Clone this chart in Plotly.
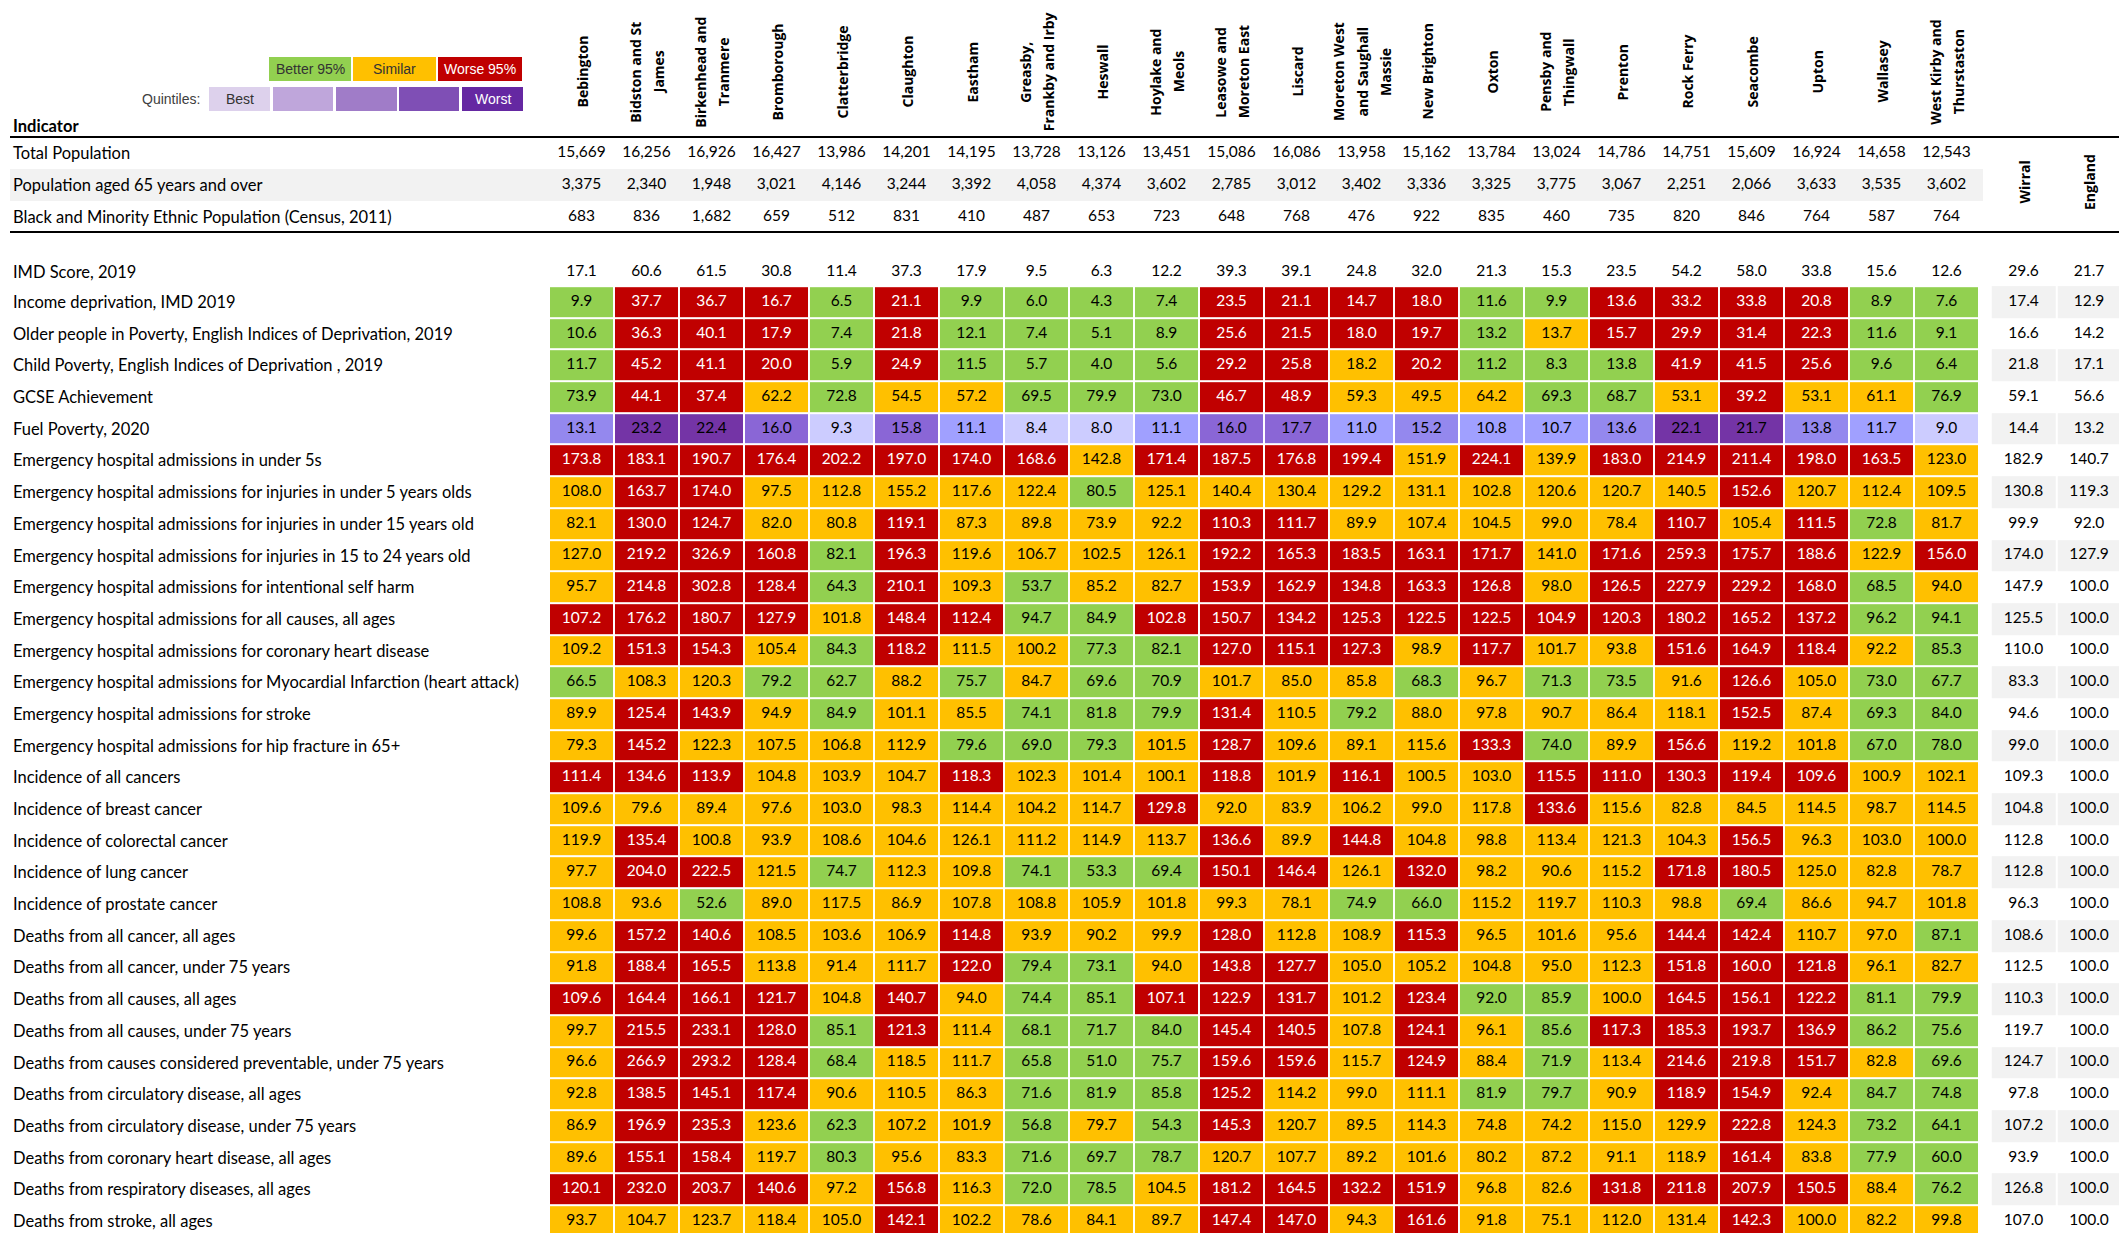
import plotly.graph_objects as go

# ------------------------------------------------------------------ data
wards = ["Bebington", "Bidston and St James", "Birkenhead and Tranmere", "Bromborough",
         "Clatterbridge", "Claughton", "Eastham", "Greasby, Frankby and Irby", "Heswall",
         "Hoylake and Meols", "Leasowe and Moreton East", "Liscard",
         "Moreton West and Saughall Massie", "New Brighton", "Oxton", "Pensby and Thingwall",
         "Prenton", "Rock Ferry", "Seacombe", "Upton", "Wallasey", "West Kirby and Thurstaston"]
ward_header_lines = [["Bebington"], ["Bidston and St", "James"], ["Birkenhead and", "Tranmere"],
                     ["Bromborough"], ["Clatterbridge"], ["Claughton"], ["Eastham"],
                     ["Greasby,", "Frankby and Irby"], ["Heswall"], ["Hoylake and", "Meols"],
                     ["Leasowe and", "Moreton East"], ["Liscard"],
                     ["Moreton West", "and Saughall", "Massie"], ["New Brighton"], ["Oxton"],
                     ["Pensby and", "Thingwall"], ["Prenton"], ["Rock Ferry"], ["Seacombe"],
                     ["Upton"], ["Wallasey"], ["West Kirby and", "Thurstaston"]]
comparators = ["Wirral", "England"]

top_labels = ["Total Population", "Population aged 65 years and over",
              "Black and Minority Ethnic Population (Census, 2011)"]
total_population = [15669, 16256, 16926, 16427, 13986, 14201, 14195, 13728, 13126, 13451, 15086,
                    16086, 13958, 15162, 13784, 13024, 14786, 14751, 15609, 16924, 14658, 12543]
population_65_plus = [3375, 2340, 1948, 3021, 4146, 3244, 3392, 4058, 4374, 3602, 2785,
                      3012, 3402, 3336, 3325, 3775, 3067, 2251, 2066, 3633, 3535, 3602]
bme_population = [683, 836, 1682, 659, 512, 831, 410, 487, 653, 723, 648,
                  768, 476, 922, 835, 460, 735, 820, 846, 764, 587, 764]

imd_label = "IMD Score, 2019"
imd_score = [17.1, 60.6, 61.5, 30.8, 11.4, 37.3, 17.9, 9.5, 6.3, 12.2, 39.3,
             39.1, 24.8, 32.0, 21.3, 15.3, 23.5, 54.2, 58.0, 33.8, 15.6, 12.6]
imd_wirral, imd_england = 29.6, 21.7

# significance: G better, A similar, R worse; 1-5 quintiles (best..worst)
income_dep = [9.9, 37.7, 36.7, 16.7, 6.5, 21.1, 9.9, 6.0, 4.3, 7.4, 23.5, 21.1, 14.7, 18.0, 11.6, 9.9, 13.6, 33.2, 33.8, 20.8, 8.9, 7.6]
income_dep_sig = "GRRRGRGGGGRRRRGGRRRRGG"
older_poverty = [10.6, 36.3, 40.1, 17.9, 7.4, 21.8, 12.1, 7.4, 5.1, 8.9, 25.6, 21.5, 18.0, 19.7, 13.2, 13.7, 15.7, 29.9, 31.4, 22.3, 11.6, 9.1]
older_poverty_sig = "GRRRGRGGGGRRRRGARRRRGG"
child_poverty = [11.7, 45.2, 41.1, 20.0, 5.9, 24.9, 11.5, 5.7, 4.0, 5.6, 29.2, 25.8, 18.2, 20.2, 11.2, 8.3, 13.8, 41.9, 41.5, 25.6, 9.6, 6.4]
child_poverty_sig = "GRRRGRGGGGRRARGGGRRRGG"
gcse = [73.9, 44.1, 37.4, 62.2, 72.8, 54.5, 57.2, 69.5, 79.9, 73.0, 46.7, 48.9, 59.3, 49.5, 64.2, 69.3, 68.7, 53.1, 39.2, 53.1, 61.1, 76.9]
gcse_sig = "GRRAGAAGGGRRAAAGGARAAG"
fuel_poverty = [13.1, 23.2, 22.4, 16.0, 9.3, 15.8, 11.1, 8.4, 8.0, 11.1, 16.0, 17.7, 11.0, 15.2, 10.8, 10.7, 13.6, 22.1, 21.7, 13.8, 11.7, 9.0]
fuel_poverty_sig = "3554142112442322355321"
ea_under5 = [173.8, 183.1, 190.7, 176.4, 202.2, 197.0, 174.0, 168.6, 142.8, 171.4, 187.5, 176.8, 199.4, 151.9, 224.1, 139.9, 183.0, 214.9, 211.4, 198.0, 163.5, 123.0]
ea_under5_sig = "RRRRRRRRARRRRARARRRRRA"
ea_inj_u5 = [108.0, 163.7, 174.0, 97.5, 112.8, 155.2, 117.6, 122.4, 80.5, 125.1, 140.4, 130.4, 129.2, 131.1, 102.8, 120.6, 120.7, 140.5, 152.6, 120.7, 112.4, 109.5]
ea_inj_u5_sig = "ARRAAAAAGAAAAAAAAARAAA"
ea_inj_u15 = [82.1, 130.0, 124.7, 82.0, 80.8, 119.1, 87.3, 89.8, 73.9, 92.2, 110.3, 111.7, 89.9, 107.4, 104.5, 99.0, 78.4, 110.7, 105.4, 111.5, 72.8, 81.7]
ea_inj_u15_sig = "ARRAARAAAARRAAAAARARGA"
ea_inj_15_24 = [127.0, 219.2, 326.9, 160.8, 82.1, 196.3, 119.6, 106.7, 102.5, 126.1, 192.2, 165.3, 183.5, 163.1, 171.7, 141.0, 171.6, 259.3, 175.7, 188.6, 122.9, 156.0]
ea_inj_15_24_sig = "ARRRGRAAAARRRRRARRRRAR"
ea_self_harm = [95.7, 214.8, 302.8, 128.4, 64.3, 210.1, 109.3, 53.7, 85.2, 82.7, 153.9, 162.9, 134.8, 163.3, 126.8, 98.0, 126.5, 227.9, 229.2, 168.0, 68.5, 94.0]
ea_self_harm_sig = "ARRRGRAGAARRRRRARRRRGA"
ea_all = [107.2, 176.2, 180.7, 127.9, 101.8, 148.4, 112.4, 94.7, 84.9, 102.8, 150.7, 134.2, 125.3, 122.5, 122.5, 104.9, 120.3, 180.2, 165.2, 137.2, 96.2, 94.1]
ea_all_sig = "RRRRARRGGRRRRRRRRRRRGG"
ea_chd = [109.2, 151.3, 154.3, 105.4, 84.3, 118.2, 111.5, 100.2, 77.3, 82.1, 127.0, 115.1, 127.3, 98.9, 117.7, 101.7, 93.8, 151.6, 164.9, 118.4, 92.2, 85.3]
ea_chd_sig = "ARRAGRAAGGRRRARAARRRAG"
ea_mi = [66.5, 108.3, 120.3, 79.2, 62.7, 88.2, 75.7, 84.7, 69.6, 70.9, 101.7, 85.0, 85.8, 68.3, 96.7, 71.3, 73.5, 91.6, 126.6, 105.0, 73.0, 67.7]
ea_mi_sig = "GAAGGAGAGGAAAGAGGARAGG"
ea_stroke = [89.9, 125.4, 143.9, 94.9, 84.9, 101.1, 85.5, 74.1, 81.8, 79.9, 131.4, 110.5, 79.2, 88.0, 97.8, 90.7, 86.4, 118.1, 152.5, 87.4, 69.3, 84.0]
ea_stroke_sig = "ARRAGAAGGGRAGAAAAARAGG"
ea_hip = [79.3, 145.2, 122.3, 107.5, 106.8, 112.9, 79.6, 69.0, 79.3, 101.5, 128.7, 109.6, 89.1, 115.6, 133.3, 74.0, 89.9, 156.6, 119.2, 101.8, 67.0, 78.0]
ea_hip_sig = "ARAAAAGGGARAAARGARAAGG"
inc_all_cancer = [111.4, 134.6, 113.9, 104.8, 103.9, 104.7, 118.3, 102.3, 101.4, 100.1, 118.8, 101.9, 116.1, 100.5, 103.0, 115.5, 111.0, 130.3, 119.4, 109.6, 100.9, 102.1]
inc_all_cancer_sig = "RRRAAARAAARARAARRRRRAA"
inc_breast = [109.6, 79.6, 89.4, 97.6, 103.0, 98.3, 114.4, 104.2, 114.7, 129.8, 92.0, 83.9, 106.2, 99.0, 117.8, 133.6, 115.6, 82.8, 84.5, 114.5, 98.7, 114.5]
inc_breast_sig = "AAAAAAAAARAAAAARAAAAAA"
inc_colorectal = [119.9, 135.4, 100.8, 93.9, 108.6, 104.6, 126.1, 111.2, 114.9, 113.7, 136.6, 89.9, 144.8, 104.8, 98.8, 113.4, 121.3, 104.3, 156.5, 96.3, 103.0, 100.0]
inc_colorectal_sig = "ARAAAAAAAARARAAAAARAAA"
inc_lung = [97.7, 204.0, 222.5, 121.5, 74.7, 112.3, 109.8, 74.1, 53.3, 69.4, 150.1, 146.4, 126.1, 132.0, 98.2, 90.6, 115.2, 171.8, 180.5, 125.0, 82.8, 78.7]
inc_lung_sig = "ARRAGAAGGGRRARAAARRAAA"
inc_prostate = [108.8, 93.6, 52.6, 89.0, 117.5, 86.9, 107.8, 108.8, 105.9, 101.8, 99.3, 78.1, 74.9, 66.0, 115.2, 119.7, 110.3, 98.8, 69.4, 86.6, 94.7, 101.8]
inc_prostate_sig = "AAGAAAAAAAAAGGAAAAGAAA"
d_cancer = [99.6, 157.2, 140.6, 108.5, 103.6, 106.9, 114.8, 93.9, 90.2, 99.9, 128.0, 112.8, 108.9, 115.3, 96.5, 101.6, 95.6, 144.4, 142.4, 110.7, 97.0, 87.1]
d_cancer_sig = "ARRAAARAAARAARAAARRAAG"
d_cancer_u75 = [91.8, 188.4, 165.5, 113.8, 91.4, 111.7, 122.0, 79.4, 73.1, 94.0, 143.8, 127.7, 105.0, 105.2, 104.8, 95.0, 112.3, 151.8, 160.0, 121.8, 96.1, 82.7]
d_cancer_u75_sig = "ARRAAARGGARRAAAAARRRAA"
d_all = [109.6, 164.4, 166.1, 121.7, 104.8, 140.7, 94.0, 74.4, 85.1, 107.1, 122.9, 131.7, 101.2, 123.4, 92.0, 85.9, 100.0, 164.5, 156.1, 122.2, 81.1, 79.9]
d_all_sig = "RRRRARAGGRRRARGGARRRGG"
d_all_u75 = [99.7, 215.5, 233.1, 128.0, 85.1, 121.3, 111.4, 68.1, 71.7, 84.0, 145.4, 140.5, 107.8, 124.1, 96.1, 85.6, 117.3, 185.3, 193.7, 136.9, 86.2, 75.6]
d_all_u75_sig = "ARRRGRAGGGRRARAGRRRRGG"
d_prevent = [96.6, 266.9, 293.2, 128.4, 68.4, 118.5, 111.7, 65.8, 51.0, 75.7, 159.6, 159.6, 115.7, 124.9, 88.4, 71.9, 113.4, 214.6, 219.8, 151.7, 82.8, 69.6]
d_prevent_sig = "ARRRGAAGGGRRARAGARRRAG"
d_circ = [92.8, 138.5, 145.1, 117.4, 90.6, 110.5, 86.3, 71.6, 81.9, 85.8, 125.2, 114.2, 99.0, 111.1, 81.9, 79.7, 90.9, 118.9, 154.9, 92.4, 84.7, 74.8]
d_circ_sig = "ARRRAAAGGGRAAAGGARRAGG"
d_circ_u75 = [86.9, 196.9, 235.3, 123.6, 62.3, 107.2, 101.9, 56.8, 79.7, 54.3, 145.3, 120.7, 89.5, 114.3, 74.8, 74.2, 115.0, 129.9, 222.8, 124.3, 73.2, 64.1]
d_circ_u75_sig = "ARRAGAAGAGRAAAAAAARAGG"
d_chd = [89.6, 155.1, 158.4, 119.7, 80.3, 95.6, 83.3, 71.6, 69.7, 78.7, 120.7, 107.7, 89.2, 101.6, 80.2, 87.2, 91.1, 118.9, 161.4, 83.8, 77.9, 60.0]
d_chd_sig = "ARRAGAAGGGAAAAAAAARAGG"
d_resp = [120.1, 232.0, 203.7, 140.6, 97.2, 156.8, 116.3, 72.0, 78.5, 104.5, 181.2, 164.5, 132.2, 151.9, 96.8, 82.6, 131.8, 211.8, 207.9, 150.5, 88.4, 76.2]
d_resp_sig = "RRRRARAGGARRRRAARRRRAG"
d_stroke = [93.7, 104.7, 123.7, 118.4, 105.0, 142.1, 102.2, 78.6, 84.1, 89.7, 147.4, 147.0, 94.3, 161.6, 91.8, 75.1, 112.0, 131.4, 142.3, 100.0, 82.2, 99.8]
d_stroke_sig = "AAAAARAAAARRARAAAARAAA"

indicator_labels = [
    "Income deprivation, IMD 2019",
    "Older people in Poverty, English Indices of Deprivation, 2019",
    "Child Poverty, English Indices of Deprivation , 2019",
    "GCSE Achievement",
    "Fuel Poverty, 2020",
    "Emergency hospital admissions in under 5s",
    "Emergency hospital admissions for injuries in under 5 years olds",
    "Emergency hospital admissions for injuries in under 15 years old",
    "Emergency hospital admissions for injuries in 15 to 24 years old",
    "Emergency hospital admissions for intentional self harm",
    "Emergency hospital admissions for all causes, all ages",
    "Emergency hospital admissions for coronary heart disease",
    "Emergency hospital admissions for Myocardial Infarction (heart attack)",
    "Emergency hospital admissions for stroke",
    "Emergency hospital admissions for hip fracture in 65+",
    "Incidence of all cancers",
    "Incidence of breast cancer",
    "Incidence of colorectal cancer",
    "Incidence of lung cancer",
    "Incidence of prostate cancer",
    "Deaths from all cancer, all ages",
    "Deaths from all cancer, under 75 years",
    "Deaths from all causes, all ages",
    "Deaths from all causes, under 75 years",
    "Deaths from causes considered preventable, under 75 years",
    "Deaths from circulatory disease, all ages",
    "Deaths from circulatory disease, under 75 years",
    "Deaths from coronary heart disease, all ages",
    "Deaths from respiratory diseases, all ages",
    "Deaths from stroke, all ages",
]
wirral_values = [17.4, 16.6, 21.8, 59.1, 14.4, 182.9, 130.8, 99.9, 174.0, 147.9, 125.5, 110.0, 83.3, 94.6, 99.0,
                 109.3, 104.8, 112.8, 112.8, 96.3, 108.6, 112.5, 110.3, 119.7, 124.7, 97.8, 107.2, 93.9, 126.8, 107.0]
england_values = [12.9, 14.2, 17.1, 56.6, 13.2, 140.7, 119.3, 92.0, 127.9, 100.0, 100.0, 100.0, 100.0, 100.0, 100.0,
                  100.0, 100.0, 100.0, 100.0, 100.0, 100.0, 100.0, 100.0, 100.0, 100.0, 100.0, 100.0, 100.0, 100.0, 100.0]

indicator_values = [income_dep, older_poverty, child_poverty, gcse, fuel_poverty, ea_under5, ea_inj_u5,
                    ea_inj_u15, ea_inj_15_24, ea_self_harm, ea_all, ea_chd, ea_mi, ea_stroke, ea_hip,
                    inc_all_cancer, inc_breast, inc_colorectal, inc_lung, inc_prostate, d_cancer,
                    d_cancer_u75, d_all, d_all_u75, d_prevent, d_circ, d_circ_u75, d_chd, d_resp, d_stroke]
indicator_sigs = [income_dep_sig, older_poverty_sig, child_poverty_sig, gcse_sig, fuel_poverty_sig,
                  ea_under5_sig, ea_inj_u5_sig, ea_inj_u15_sig, ea_inj_15_24_sig, ea_self_harm_sig,
                  ea_all_sig, ea_chd_sig, ea_mi_sig, ea_stroke_sig, ea_hip_sig, inc_all_cancer_sig,
                  inc_breast_sig, inc_colorectal_sig, inc_lung_sig, inc_prostate_sig, d_cancer_sig,
                  d_cancer_u75_sig, d_all_sig, d_all_u75_sig, d_prevent_sig, d_circ_sig, d_circ_u75_sig,
                  d_chd_sig, d_resp_sig, d_stroke_sig]

sig_legend = ["Better 95%", "Similar", "Worse 95%"]
quintile_legend = ["Best", "", "", "", "Worst"]

# ------------------------------------------------------------------ styling / geometry
W, H = 2119, 1233
COL_W, COL0 = 65.0, 581.5          # px width of a ward column, px centre of first column
ROW_H, ROW0 = 31.69, 302.0         # px height of an indicator row, px centre of first row


def px2x(px):
    return (px - COL0) / COL_W


def px2y(py):
    return (py - ROW0) / ROW_H


LABEL_FONT = "Lato"
VALUE_FONT = "Lato"
HEAD_FONT = "Open Sans"
LEG_FONT = "Liberation Sans"

sig_codes = {"G": 0, "A": 1, "R": 2, "1": 3, "2": 4, "3": 5, "4": 6, "5": 7}
cell_colors = ["#92D050", "#FFC000", "#C00000", "#CCCCFF", "#A0A0FF", "#9488EE", "#8A66D6", "#7434A6"]
text_on = ["#000000", "#000000", "#FFFFFF", "#000000", "#000000", "#000000", "#000000", "#000000"]
quintile_leg_colors = ["#DDD1EC", "#BFA6DB", "#A07CC8", "#7F4FB5", "#6528A2"]

ncol = len(wards)
nrow = len(indicator_labels)
wirral_x = px2x(2023.5)
england_x = px2x(2089.0)
top_rows_y = [px2y(153), px2y(185), px2y(217)]
imd_y = px2y(272)

n = len(cell_colors)
colorscale = []
for k, c in enumerate(cell_colors):
    colorscale.append([k / n, c])
    colorscale.append([(k + 1) / n, c])

z = [[sig_codes[ch] for ch in sig] for sig in indicator_sigs]

fig = go.Figure()

# coloured cells
fig.add_trace(go.Heatmap(z=z, x=list(range(ncol)), y=list(range(nrow)), zmin=-0.5, zmax=n - 0.5,
                         colorscale=colorscale, showscale=False, xgap=2, ygap=2, hoverinfo="skip"))

# alternating grey comparator cells
zc = [[1 if r % 2 == 0 else 0, 1 if r % 2 == 0 else 0] for r in range(nrow)]
fig.add_trace(go.Heatmap(z=zc, x=[wirral_x, england_x], y=list(range(nrow)), zmin=0, zmax=1,
                         colorscale=[[0, "#FFFFFF"], [1, "#F2F2F2"]], showscale=False,
                         xgap=2, ygap=0, hoverinfo="skip"))

# values inside cells
tx, ty, tt, tc = [], [], [], []
for r in range(nrow):
    for c in range(ncol):
        tx.append(c)
        ty.append(r)
        tt.append(f"{indicator_values[r][c]:.1f}")
        tc.append(text_on[z[r][c]])
    for xx, v in ((wirral_x, wirral_values[r]), (england_x, england_values[r])):
        tx.append(xx)
        ty.append(r)
        tt.append(f"{v:.1f}")
        tc.append("#000000")
# IMD row
for c in range(ncol):
    tx.append(c)
    ty.append(imd_y)
    tt.append(f"{imd_score[c]:.1f}")
    tc.append("#000000")
for xx, v in ((wirral_x, imd_wirral), (england_x, imd_england)):
    tx.append(xx)
    ty.append(imd_y)
    tt.append(f"{v:.1f}")
    tc.append("#000000")
# population rows
for yy, vals in zip(top_rows_y, [total_population, population_65_plus, bme_population]):
    for c in range(ncol):
        tx.append(c)
        ty.append(yy)
        tt.append(f"{vals[c]:,}")
        tc.append("#000000")

fig.add_trace(go.Scatter(x=tx, y=ty, text=tt, mode="text", textposition="middle center",
                         textfont=dict(family=VALUE_FONT, size=15.5, color=tc),
                         hoverinfo="skip", showlegend=False))

annotations = []
# row labels
for yy, lab in zip(top_rows_y + [imd_y] + list(range(nrow)), top_labels + [imd_label] + indicator_labels):
    annotations.append(dict(x=11 / W, xref="paper", y=yy, yref="y", text=lab, showarrow=False,
                            xanchor="left", yanchor="middle",
                            font=dict(family=LABEL_FONT, size=16.5, color="#000000")))
annotations.append(dict(x=11 / W, xref="paper", y=px2y(126), yref="y", text="Indicator", showarrow=False,
                        xanchor="left", yanchor="middle",
                        font=dict(family=LABEL_FONT, size=16.5, color="#000000", weight="bold")))

# rotated ward headers
LINE_SP = 23.5
for c, lines in enumerate(ward_header_lines):
    m = len(lines)
    for k, ln in enumerate(lines):
        annotations.append(dict(x=c + (k - (m - 1) / 2) * LINE_SP / COL_W, xref="x", y=px2y(72), yref="y",
                                text=ln, textangle=-90, showarrow=False, xanchor="center", yanchor="middle",
                                font=dict(family=HEAD_FONT, size=14, color="#000000", weight="bold")))
for xx, lab in zip([wirral_x, england_x], comparators):
    annotations.append(dict(x=xx, xref="x", y=px2y(182), yref="y", text=lab, textangle=-90, showarrow=False,
                            xanchor="center", yanchor="middle",
                            font=dict(family=HEAD_FONT, size=14, color="#000000", weight="bold")))

shapes = []
# grey band behind population aged 65 row
shapes.append(dict(type="rect", xref="x", yref="y", x0=px2x(10), x1=px2x(1983), y0=px2y(169), y1=px2y(201),
                   fillcolor="#F2F2F2", line=dict(width=0), layer="below"))
# horizontal rules
for py in (137, 232):
    shapes.append(dict(type="line", xref="x", yref="y", x0=px2x(10), x1=px2x(W + 5), y0=px2y(py), y1=px2y(py),
                       line=dict(color="#000000", width=2)))

# legend boxes (significance)
sig_boxes = [(269, 351), (353, 436), (438, 522)]
for (a, b), lab, col, tcol in zip(sig_boxes, sig_legend, cell_colors[:3], ["#333333", "#333333", "#FFFFFF"]):
    shapes.append(dict(type="rect", xref="paper", yref="paper", x0=a / W, x1=b / W, y0=1 - 81 / H, y1=1 - 57 / H,
                       fillcolor=col, line=dict(width=0)))
    annotations.append(dict(x=(a + b) / 2 / W, xref="paper", y=1 - 69 / H, yref="paper", text=lab,
                            showarrow=False, xanchor="center", yanchor="middle",
                            font=dict(family=LEG_FONT, size=14, color=tcol)))
q_boxes = [(209, 270), (273, 333), (336, 397), (399, 459), (462, 523)]
for (a, b), lab, col, tcol in zip(q_boxes, quintile_legend, quintile_leg_colors,
                                  ["#333333", "#333333", "#333333", "#FFFFFF", "#FFFFFF"]):
    shapes.append(dict(type="rect", xref="paper", yref="paper", x0=a / W, x1=b / W, y0=1 - 111 / H, y1=1 - 87 / H,
                       fillcolor=col, line=dict(width=0)))
    if lab:
        annotations.append(dict(x=(a + b) / 2 / W, xref="paper", y=1 - 99 / H, yref="paper", text=lab,
                                showarrow=False, xanchor="center", yanchor="middle",
                                font=dict(family=LEG_FONT, size=14, color=tcol)))
annotations.append(dict(x=202 / W, xref="paper", y=1 - 99 / H, yref="paper", text="Quintiles:",
                        showarrow=False, xanchor="right", yanchor="middle",
                        font=dict(family=LEG_FONT, size=14, color="#404040")))

fig.update_layout(
    width=W, height=H, margin=dict(l=0, r=0, t=0, b=0),
    paper_bgcolor="#FFFFFF", plot_bgcolor="#FFFFFF", showlegend=False,
    xaxis=dict(range=[px2x(0), px2x(W)], visible=False, fixedrange=True),
    yaxis=dict(range=[px2y(H), px2y(0)], visible=False, fixedrange=True),
    annotations=annotations, shapes=shapes,
)

# remove the browser's default 8px body margin so the figure sits at the page origin
fig.write_html("out.html", config={"displayModeBar": False},
               post_script="document.body.style.margin='0px';document.body.style.overflow='hidden';")
